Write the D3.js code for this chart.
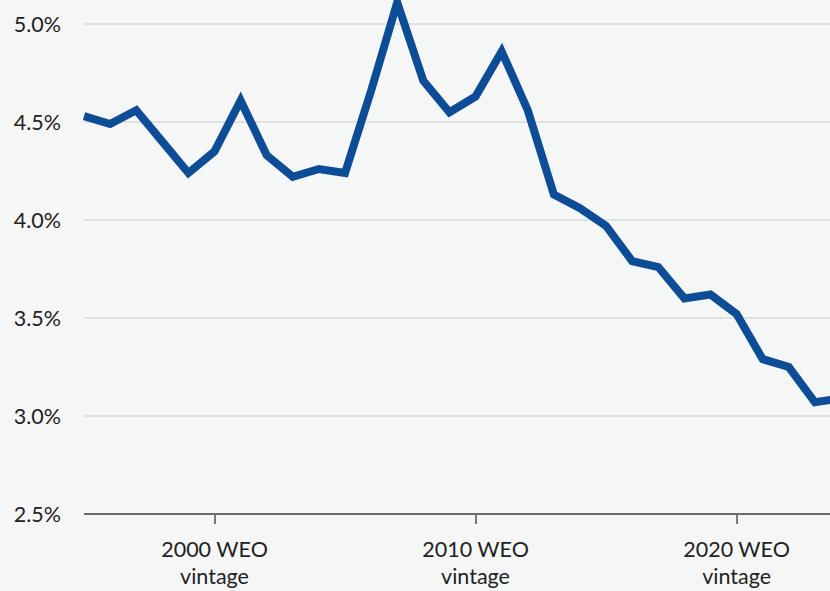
<!DOCTYPE html>
<html>
<head>
<meta charset="utf-8">
<script src="https://cdn.jsdelivr.net/npm/d3@7"></script>
<style>
  html, body { margin: 0; padding: 0; background: #f5f7f7; }
  svg { display: block; }
  text { font-family: Lato, "Open Sans", sans-serif; fill: #222; }
</style>
</head>
<body>
<div id="chart"></div>
<script>
// WEO vintage years and the rate in percent
var years = [1995, 1996, 1997, 1998, 1999, 2000, 2001, 2002, 2003, 2004,
             2005, 2006, 2007, 2008, 2009, 2010, 2011, 2012, 2013, 2014,
             2015, 2016, 2017, 2018, 2019, 2020, 2021, 2022, 2023, 2024];
var values = [4.53, 4.49, 4.56, 4.40, 4.24, 4.35, 4.61, 4.33, 4.22, 4.26,
              4.24, 4.66, 5.11, 4.71, 4.55, 4.63, 4.86, 4.56, 4.13, 4.06,
              3.97, 3.79, 3.76, 3.60, 3.62, 3.52, 3.29, 3.25, 3.07, 3.09];
var yTicks = [2.5, 3.0, 3.5, 4.0, 4.5, 5.0];
var xTicks = [2000, 2010, 2020];

var width = 830, height = 591;
var svg = d3.select('#chart').append('svg')
    .attr('width', width)
    .attr('height', height);

var x = d3.scaleLinear().domain([1995, 2024]).range([84, 841]);
var y = d3.scaleLinear().domain([2.5, 5.0]).range([514, 24]);

// gridlines
svg.append('g')
  .selectAll('line')
  .data(yTicks.slice(1))
  .join('line')
    .attr('x1', 84).attr('x2', width)
    .attr('y1', d => y(d)).attr('y2', d => y(d))
    .attr('stroke', '#d9dadb')
    .attr('stroke-width', 1.5);

// y labels
svg.append('g')
  .selectAll('text')
  .data(yTicks)
  .join('text')
    .attr('x', 61)
    .attr('y', d => y(d))
    .attr('dy', '0.35em')
    .attr('text-anchor', 'end')
    .style('font-size', '21.5px')
    .text(d => d.toFixed(1) + '%');

// x axis
var xAxis = svg.append('g')
    .attr('transform', `translate(0,${y(2.5)})`)
    .call(d3.axisBottom(x).tickValues(xTicks).tickSize(10).tickFormat(''));
xAxis.select('.domain').attr('stroke', '#6b6b6b').attr('stroke-width', 1.8)
    .attr('d', `M84,0H${width}`);
xAxis.selectAll('.tick line').attr('stroke', '#6b6b6b').attr('stroke-width', 1.8);

var lbl = svg.append('g')
  .selectAll('text')
  .data(xTicks)
  .join('text')
    .attr('x', d => x(d))
    .attr('text-anchor', 'middle')
    .style('font-size', '21.5px');
lbl.append('tspan').attr('x', d => x(d)).attr('y', 557).text(d => d + ' WEO');
lbl.append('tspan').attr('x', d => x(d)).attr('y', 584).text('vintage');

// line
var line = d3.line()
    .x((d, i) => x(years[i]))
    .y(d => y(d));
svg.append('path')
    .datum(values)
    .attr('fill', 'none')
    .attr('stroke', '#0d4c96')
    .attr('stroke-width', 8)
    .attr('stroke-linejoin', 'miter')
    .attr('d', line);
</script>
</body>
</html>
